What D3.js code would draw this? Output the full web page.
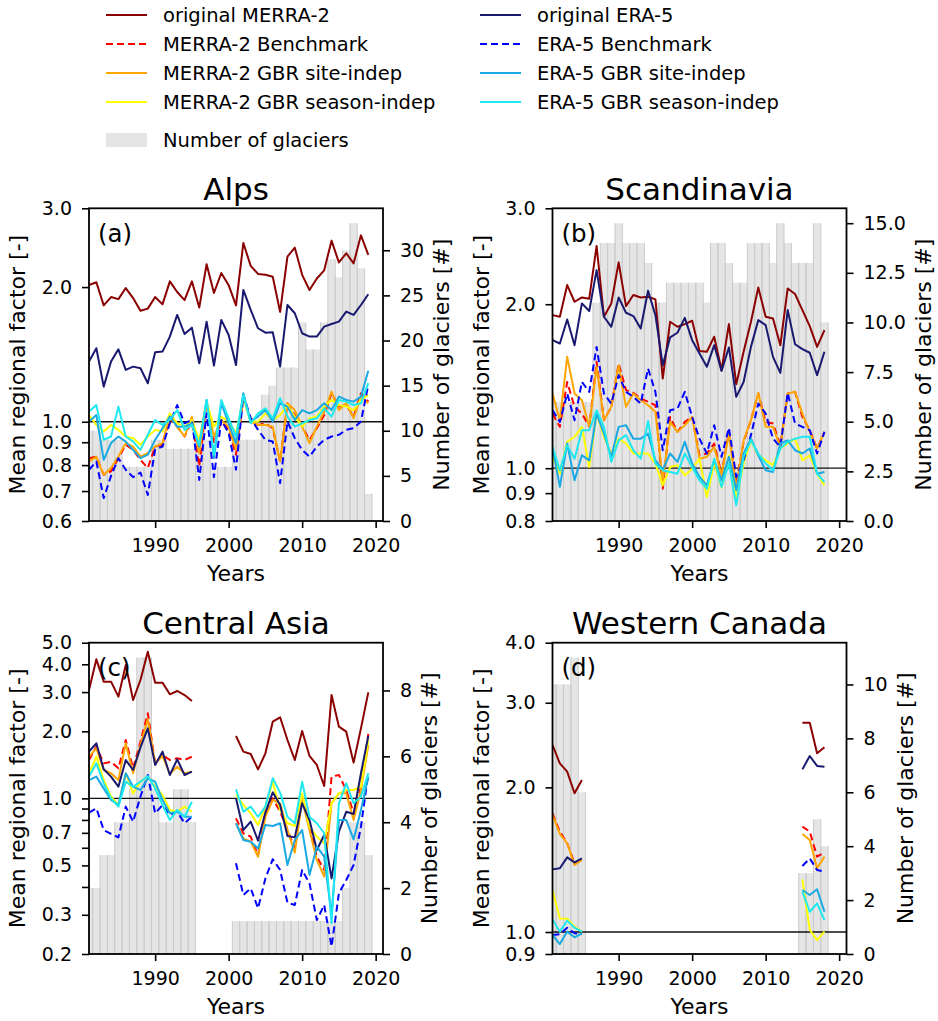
<!DOCTYPE html>
<html>
<head>
<meta charset="utf-8">
<script src="https://cdn.jsdelivr.net/npm/d3@7"></script>
<style>
  body { margin: 0; background: #fff; }
  svg text { font-family: "DejaVu Sans", "Liberation Sans", sans-serif; fill: #000; }
</style>
</head>
<body>
<svg id="chart" width="938" height="1021"></svg>
<script>
// ---- legend / series definitions ----
const seriesNames = ["original MERRA-2", "MERRA-2 Benchmark", "MERRA-2 GBR site-indep", "MERRA-2 GBR season-indep",
                     "original ERA-5", "ERA-5 Benchmark", "ERA-5 GBR site-indep", "ERA-5 GBR season-indep"];
const seriesColors = ["#8b0000", "#ff0000", "#ffa500", "#ffff00", "#191970", "#0000ff", "#1aa9e2", "#1ee8f0"];
const seriesDash = [null, "7,4", null, null, null, "7,4", null, null];

// ---- Alps (a) ----
const alpsYears = d3.range(1981, 2020);
const alpsGlaciers = [10, 10, 9, 9, 9, 6, 6, 6, 6, 9, 9, 8, 8, 8, 8, 9, 9, 6, 6, 6,
                      9, 9, 9, 9, 14, 15, 17, 17, 17, 22, 19, 19, 22, 29, 27, 30, 33, 28, 3];
const alpsMerraOrig = [2.02, 2.05, 1.82, 1.90, 1.88, 1.99, 1.89, 1.77, 1.79, 1.90, 1.83, 2.06, 1.95, 1.87, 2.06, 1.80, 2.25, 1.94, 2.15, 2.02,
                       1.82, 2.51, 2.23, 2.14, 2.13, 2.11, 1.76, 2.34, 2.45, 2.13, 1.97, 2.09, 2.18, 2.54, 2.27, 2.38, 2.26, 2.61, 2.36];
const alpsMerraBench = [0.829, 0.836, 0.761, 0.775, 0.829, 0.888, 0.865, 0.822, 0.788, 0.880, 0.888, 1.018, 0.975, 0.927, 1.001, 0.795, 1.109, 0.896, 1.001, 0.959,
                        0.844, 1.129, 1.018, 0.984, 0.992, 0.967, 0.815, 1.100, 1.035, 0.975, 0.911, 0.967, 1.035, 1.158, 1.081, 1.090, 1.027, 1.158, 1.109];
const alpsMerraSite = [0.815, 0.836, 0.761, 0.788, 0.836, 0.896, 0.880, 0.836, 0.851, 0.880, 0.896, 1.035, 0.975, 0.927, 1.027, 0.851, 1.100, 0.927, 1.009, 0.975,
                       0.865, 1.138, 1.001, 0.984, 0.984, 0.975, 0.815, 1.100, 1.062, 0.975, 0.896, 0.975, 1.053, 1.168, 1.062, 1.100, 1.018, 1.138, 1.100];
const alpsMerraSeason = [1.035, 0.984, 0.951, 0.984, 0.959, 0.927, 0.919, 0.888, 0.927, 0.959, 0.951, 1.044, 0.992, 0.975, 1.009, 0.911, 1.109, 0.975, 1.027, 1.001,
                         0.943, 1.129, 1.001, 1.001, 1.044, 1.009, 1.035, 1.090, 1.027, 0.975, 1.018, 1.027, 1.081, 1.119, 1.090, 1.081, 1.062, 1.119, 1.148];
const alpsEraOrig = [1.363, 1.460, 1.198, 1.363, 1.452, 1.306, 1.328, 1.317, 1.219, 1.430, 1.435, 1.550, 1.733, 1.571, 1.623, 1.351, 1.674, 1.335, 1.689, 1.563,
                     1.339, 1.971, 1.778, 1.618, 1.582, 1.585, 1.328, 1.824, 1.748, 1.577, 1.550, 1.550, 1.632, 1.654, 1.674, 1.763, 1.733, 1.824, 1.927];
const alpsEraBench = [0.781, 0.815, 0.675, 0.757, 0.829, 0.781, 0.752, 0.770, 0.686, 0.868, 0.880, 0.992, 1.090, 0.992, 1.009, 0.741, 1.045, 0.752, 1.009, 0.943,
                      0.781, 1.148, 1.018, 0.959, 0.911, 0.903, 0.729, 1.001, 0.919, 0.865, 0.836, 0.880, 0.911, 0.927, 0.935, 0.959, 0.967, 1.001, 1.21];
const alpsEraSite = [1.001, 1.035, 0.822, 0.896, 0.927, 0.903, 0.865, 0.829, 0.844, 0.911, 0.967, 1.027, 0.975, 0.975, 0.992, 0.880, 1.119, 0.829, 1.100, 0.992,
                     0.896, 1.158, 1.001, 1.027, 1.062, 1.001, 1.100, 1.081, 1.009, 1.062, 1.044, 1.062, 1.100, 1.062, 1.138, 1.119, 1.109, 1.138, 1.30];
const alpsEraSeason = [1.053, 1.090, 0.911, 0.927, 1.081, 0.927, 0.903, 0.865, 0.935, 1.009, 0.984, 1.009, 1.062, 0.959, 0.984, 0.888, 1.119, 0.844, 1.119, 1.018,
                       0.927, 1.148, 0.992, 1.044, 1.072, 1.018, 1.129, 1.027, 0.975, 0.992, 1.009, 1.018, 1.072, 1.027, 1.119, 1.109, 1.090, 1.100, 1.22];

// ---- Scandinavia (b) ----
const scandYears = d3.range(1981, 2019);
const scandGlaciers = [6, 6, 6, 6, 6, 6, 11, 14, 14, 15, 14, 14, 14, 13, 11, 11, 12, 12, 12, 12,
                       12, 11, 14, 14, 13, 12, 12, 14, 14, 14, 13, 15, 14, 13, 13, 13, 15, 10];
const scandMerraOrig = [1.910, 1.897, 2.169, 2.021, 2.058, 2.047, 2.558, 1.897, 2.007, 2.387, 1.984, 2.079, 2.058, 2.064, 2.041, 1.461, 1.857, 1.818, 1.839, 1.865,
                        1.642, 1.636, 1.743, 1.513, 1.839, 1.426, 1.636, 1.857, 2.147, 1.897, 1.883, 1.682, 2.138, 2.088, 1.951, 1.823, 1.670, 1.792];
const scandMerraBench = [1.260, 1.191, 1.440, 1.296, 1.260, 1.191, 1.568, 1.225, 1.296, 1.557, 1.391, 1.375, 1.343, 1.324, 1.305, 0.917, 1.242, 1.166, 1.216, 1.242,
                         1.056, 1.064, 1.110, 0.977, 1.166, 0.937, 1.118, 1.225, 1.371, 1.216, 1.208, 1.102, 1.371, 1.381, 1.242, 1.174, 1.087, 1.166];
const scandMerraSite = [1.371, 1.225, 1.601, 1.371, 1.333, 1.191, 1.535, 1.225, 1.296, 1.546, 1.296, 1.371, 1.333, 1.305, 1.269, 0.943, 1.216, 1.166, 1.199, 1.242,
                        1.041, 1.049, 1.094, 0.970, 1.158, 0.917, 1.125, 1.225, 1.375, 1.191, 1.191, 1.094, 1.371, 1.381, 1.260, 1.166, 1.087, 1.166];
const scandMerraSeason = [1.049, 0.977, 1.118, 1.142, 1.191, 1.005, 1.260, 1.142, 1.064, 1.133, 1.110, 1.064, 1.064, 1.064, 1.020, 0.930, 1.005, 1.013, 0.970, 0.998,
                          1.041, 0.885, 1.020, 0.922, 1.056, 0.879, 1.020, 1.125, 1.056, 1.034, 1.013, 1.087, 1.110, 1.133, 1.034, 1.056, 0.977, 0.930];
const scandEraOrig = [1.718, 1.694, 1.875, 1.682, 2.007, 1.943, 2.310, 1.897, 1.818, 2.058, 1.929, 1.902, 1.805, 2.117, 1.910, 1.546, 1.738, 1.773, 1.888, 1.718,
                      1.624, 1.535, 1.682, 1.509, 1.666, 1.352, 1.440, 1.670, 1.870, 1.831, 1.601, 1.496, 1.951, 1.689, 1.654, 1.629, 1.482, 1.636];
const scandEraBench = [1.278, 1.216, 1.371, 1.225, 1.440, 1.381, 1.670, 1.371, 1.314, 1.482, 1.381, 1.352, 1.314, 1.524, 1.381, 1.079, 1.278, 1.287, 1.381, 1.242,
                       1.133, 1.064, 1.199, 1.049, 1.186, 0.964, 1.034, 1.150, 1.314, 1.260, 1.133, 1.094, 1.375, 1.208, 1.191, 1.174, 1.064, 1.166];
const scandEraSite = [1.094, 0.924, 1.110, 0.950, 1.056, 1.034, 1.260, 1.158, 1.049, 1.191, 1.199, 1.133, 1.133, 1.158, 1.034, 0.994, 1.064, 1.027, 1.118, 1.020,
                      0.964, 0.930, 1.034, 0.950, 1.049, 0.911, 1.064, 1.133, 1.056, 0.991, 0.984, 1.110, 1.125, 1.079, 1.064, 1.087, 0.977, 0.984];
const scandEraSeason = [1.094, 0.991, 1.102, 1.041, 1.174, 1.174, 1.278, 1.191, 1.027, 1.125, 1.150, 1.079, 1.041, 1.221, 1.020, 0.991, 0.984, 0.977, 1.064, 1.005,
                        0.950, 0.917, 1.041, 0.924, 1.020, 0.855, 1.049, 1.125, 1.064, 1.020, 0.991, 1.087, 1.118, 1.133, 1.142, 1.142, 0.977, 0.943];

// ---- Central Asia (c) ----
const centralYears = [...d3.range(1981, 1996), ...d3.range(2001, 2020)];
const centralGlaciers = [2, 2, 3, 3, 4, 4, 5, 9, 9, 5, 4, 4, 5, 5, 4,
                         1, 1, 1, 1, 1, 1, 1, 1, 1, 1, 1, 1, 1, 1, 1, 2, 4, 4, 3];
const centralMerraOrig = [3.066, 4.210, 3.342, 3.342, 2.862, 3.971, 2.765, 3.400, 4.558, 3.308, 3.308, 2.932, 3.035, 2.911, 2.736,
                          1.906, 1.621, 1.582, 1.350, 1.593, 2.210, 2.312, 1.828, 1.487, 2.007, 1.550, 1.412, 1.136, 2.911, 2.098, 1.993, 1.447, 2.062, 2.993];
const centralMerraBench = [1.487, 1.707, 1.436, 1.461, 1.364, 1.828, 1.364, 1.797, 2.409, 1.436, 1.566, 1.487, 1.513, 1.487, 1.539,
                           0.813, 0.697, 0.673, 0.556, 0.871, 1.000, 0.871, 0.721, 0.596, 1.018, 0.773, 0.547, 0.477, 1.252, 1.273, 1.090, 0.857, 1.128, 1.946];
const centralMerraSite = [1.539, 1.678, 1.341, 1.296, 1.209, 1.767, 1.296, 1.736, 2.264, 1.436, 1.550, 1.286, 1.388, 1.296, 1.318,
                          0.773, 0.661, 0.639, 0.547, 0.827, 0.983, 0.950, 0.721, 0.570, 0.983, 0.721, 0.529, 0.445, 0.950, 1.053, 1.053, 0.799, 1.090, 1.736];
const centralMerraSeason = [1.296, 1.539, 1.209, 1.018, 0.934, 1.296, 1.053, 1.188, 1.252, 1.128, 1.036, 0.887, 0.871, 0.918, 0.871,
                            1.036, 0.934, 0.857, 0.759, 0.918, 1.188, 0.887, 0.773, 0.751, 1.053, 0.746, 0.673, 0.628, 0.950, 1.053, 1.090, 1.090, 1.128, 1.828];
const centralEraOrig = [1.621, 1.767, 1.350, 1.252, 1.128, 1.487, 1.341, 1.695, 2.062, 1.412, 1.621, 1.273, 1.497, 1.273, 1.318,
                        1.000, 0.721, 0.786, 0.646, 0.863, 1.064, 0.934, 0.678, 0.668, 0.950, 0.799, 0.586, 0.685, 0.437, 0.709, 0.871, 0.851, 1.296, 1.906];
const centralEraBench = [0.863, 0.902, 0.721, 0.692, 0.668, 0.918, 0.786, 1.018, 1.273, 0.857, 0.934, 0.842, 0.871, 0.773, 0.827,
                         0.511, 0.368, 0.394, 0.321, 0.437, 0.533, 0.477, 0.340, 0.332, 0.477, 0.415, 0.284, 0.332, 0.216, 0.375, 0.430, 0.502, 0.746, 1.296];
const centralEraSite = [1.209, 1.252, 1.109, 0.983, 0.934, 1.296, 1.128, 1.090, 1.230, 1.188, 0.983, 0.857, 0.871, 0.827, 0.827,
                        0.773, 0.650, 0.639, 0.596, 0.759, 0.751, 0.773, 0.502, 0.650, 0.721, 0.453, 0.607, 0.547, 0.299, 0.799, 0.799, 0.654, 0.887, 1.252];
const centralEraSeason = [1.252, 1.436, 1.168, 1.000, 0.918, 1.188, 1.128, 1.188, 1.260, 1.109, 0.934, 0.799, 0.887, 0.827, 0.966,
                          1.098, 0.871, 0.918, 0.827, 0.918, 1.230, 1.061, 0.827, 0.773, 1.188, 0.827, 0.773, 0.697, 0.275, 0.950, 1.168, 0.950, 1.018, 1.296];

// ---- Western Canada (d) ----
const canadaYears = [...d3.range(1981, 1986), ...d3.range(2015, 2019)];
const canadaGlaciers = [10, 10, 10, 11, 6, 3, 3, 5, 4];
const canadaMerraOrig = [2.450, 2.244, 2.156, 1.944, 2.072, 2.727, 2.727, 2.354, 2.423];
const canadaMerraBench = [1.766, 1.618, 1.530, 1.390, 1.416, 1.657, 1.618, 1.435, 1.463];
const canadaMerraSite = [1.752, 1.600, 1.530, 1.379, 1.412, 1.600, 1.554, 1.357, 1.435];
const canadaMerraSeason = [1.223, 1.067, 1.066, 1.026, 1.002, 1.287, 1.010, 0.962, 1.002];
const canadaEraOrig = [1.350, 1.357, 1.430, 1.396, 1.423, 2.180, 2.324, 2.216, 2.208];
const canadaEraBench = [0.986, 0.990, 1.021, 0.994, 0.990, 1.372, 1.423, 1.346, 1.335];
const canadaEraSite = [0.986, 0.944, 1.002, 0.975, 0.994, 1.223, 1.194, 1.227, 1.102];
const canadaEraSeason = [1.062, 1.002, 1.056, 1.021, 1.002, 1.213, 1.102, 1.147, 1.059];

// ---- tick labels ----
const yearTicks = [1990, 2000, 2010, 2020];
const alpsYTicks = [0.6, 0.7, 0.8, 0.9, 1, 2, 3];
const scandYTicks = [0.8, 0.9, 1, 2, 3];
const centralYTicks = [0.2, 0.3, 0.4, 0.5, 0.6, 0.7, 0.8, 0.9, 1, 2, 3, 4, 5];
const centralYLabels = [0.2, 0.3, 0.5, 0.7, 1, 2, 3, 4, 5];
const canadaYTicks = [0.9, 1, 2, 3, 4];

const panels = [
    { title: "Alps", tag: "(a)", left: 89, top: 208.3, h: 312.7,
      years: alpsYears, glaciers: alpsGlaciers, yDomain: [0.6, 3], yTicks: alpsYTicks, yLabels: alpsYTicks,
      gTicks: [0, 5, 10, 15, 20, 25, 30], gFormat: d3.format("d"),
      series: [alpsMerraOrig, alpsMerraBench, alpsMerraSite, alpsMerraSeason, alpsEraOrig, alpsEraBench, alpsEraSite, alpsEraSeason] },
    { title: "Scandinavia", tag: "(b)", left: 552.5, top: 208.3, h: 312.7,
      years: scandYears, glaciers: scandGlaciers, yDomain: [0.8, 3], yTicks: scandYTicks, yLabels: scandYTicks,
      gTicks: [0, 2.5, 5, 7.5, 10, 12.5, 15], gFormat: d3.format(".1f"),
      series: [scandMerraOrig, scandMerraBench, scandMerraSite, scandMerraSeason, scandEraOrig, scandEraBench, scandEraSite, scandEraSeason] },
    { title: "Central Asia", tag: "(c)", left: 89, top: 642.7, h: 311.3,
      years: centralYears, glaciers: centralGlaciers, yDomain: [0.2, 5], yTicks: centralYTicks, yLabels: centralYLabels,
      gTicks: [0, 2, 4, 6, 8], gFormat: d3.format("d"),
      series: [centralMerraOrig, centralMerraBench, centralMerraSite, centralMerraSeason, centralEraOrig, centralEraBench, centralEraSite, centralEraSeason] },
    { title: "Western Canada", tag: "(d)", left: 552.5, top: 642.7, h: 311.3,
      years: canadaYears, glaciers: canadaGlaciers, yDomain: [0.9, 4], yTicks: canadaYTicks, yLabels: canadaYTicks,
      gTicks: [0, 2, 4, 6, 8, 10], gFormat: d3.format("d"),
      series: [canadaMerraOrig, canadaMerraBench, canadaMerraSite, canadaMerraSeason, canadaEraOrig, canadaEraBench, canadaEraSite, canadaEraSeason] }
];

const svg = d3.select("#chart");
const plotW = 294;
const tickFont = 19;
const labelFont = 22;
const barFill = "#e5e5e5";

panels.forEach((p, pi) => {
    const right = p.left + plotW;
    const bottom = p.top + p.h;
    const x = d3.scaleLinear().domain([1981, 2021]).range([p.left, right]);
    const y = d3.scaleLog().domain(p.yDomain).range([bottom, p.top]);
    const g = d3.scaleLinear().domain([0, d3.max(p.glaciers) * 1.05]).range([bottom, p.top]);

    svg.append("clipPath").attr("id", "clip" + pi)
      .append("rect")
        .attr("x", p.left).attr("y", p.top)
        .attr("width", plotW).attr("height", p.h);

    const plot = svg.append("g").attr("clip-path", `url(#clip${pi})`);

    // bars of glacier counts
    const bars = p.years.map((yr, i) => ({ yr: yr, n: p.glaciers[i] }));
    plot.selectAll("rect.bar")
        .data(bars)
        .join("rect")
        .attr("class", "bar")
        .attr("x", d => x(d.yr - 0.5))
        .attr("width", d => x(d.yr + 0.5) - x(d.yr - 0.5))
        .attr("y", d => g(d.n))
        .attr("height", d => g(0) - g(d.n))
        .attr("fill", barFill);

    // thin edges between bars
    plot.selectAll("line.edge")
        .data(bars.flatMap(d => [{ xv: d.yr - 0.5, n: d.n }, { xv: d.yr + 0.5, n: d.n }]))
        .join("line")
        .attr("class", "edge")
        .attr("x1", d => x(d.xv)).attr("x2", d => x(d.xv))
        .attr("y1", g(0)).attr("y2", d => g(d.n))
        .attr("stroke", "#cbcbcb")
        .attr("stroke-width", 1);

    // reference line at factor 1
    plot.append("line")
        .attr("x1", p.left).attr("x2", right)
        .attr("y1", y(1)).attr("y2", y(1))
        .attr("stroke", "#111")
        .attr("stroke-width", 1.3);

    // series lines, broken where years are not consecutive
    const line = d3.line().x(d => x(d[0])).y(d => y(d[1]));
    p.series.forEach((vals, si) => {
        const segs = [];
        let cur = [];
        p.years.forEach((yr, i) => {
            if (cur.length && yr - cur[cur.length - 1][0] > 1) { segs.push(cur); cur = []; }
            cur.push([yr, vals[i]]);
        });
        if (cur.length) segs.push(cur);
        plot.selectAll(null)
            .data(segs)
            .join("path")
            .attr("d", line)
            .attr("fill", "none")
            .attr("stroke", seriesColors[si])
            .attr("stroke-width", 2)
            .attr("stroke-dasharray", seriesDash[si])
            .attr("stroke-linejoin", "round");
    });

    // frame
    svg.append("rect")
        .attr("x", p.left).attr("y", p.top)
        .attr("width", plotW).attr("height", p.h)
        .attr("fill", "none")
        .attr("stroke", "#000")
        .attr("stroke-width", 1.8);

    // axes
    const xAxis = svg.append("g")
        .attr("transform", `translate(0,${bottom})`)
        .call(d3.axisBottom(x).tickValues(yearTicks).tickFormat(d3.format("d"))
            .tickSize(7).tickSizeOuter(0).tickPadding(11));

    const labelled = v => p.yLabels.some(l => Math.abs(l - v) < 1e-9);
    const yAxis = svg.append("g")
        .attr("transform", `translate(${p.left},0)`)
        .call(d3.axisLeft(y).tickValues(p.yTicks)
            .tickFormat(d => labelled(d) ? d3.format(".1f")(d) : "")
            .tickSize(7).tickSizeOuter(0).tickPadding(10));

    const gAxis = svg.append("g")
        .attr("transform", `translate(${right},0)`)
        .call(d3.axisRight(g).tickValues(p.gTicks).tickFormat(p.gFormat)
            .tickSize(7).tickSizeOuter(0).tickPadding(10));

    [xAxis, yAxis, gAxis].forEach(a => {
        a.select(".domain").remove();
        a.selectAll(".tick line").attr("stroke", "#000").attr("stroke-width", 1.6);
        a.selectAll(".tick text")
            .attr("fill", "#000")
            .style("font-size", tickFont + "px")
            .style("font-family", '"DejaVu Sans", sans-serif');
    });

    // titles and labels
    svg.append("text")
        .attr("x", p.left + plotW / 2).attr("y", p.top - 8.5)
        .attr("text-anchor", "middle")
        .style("font-size", "31px")
        .text(p.title);

    svg.append("text")
        .attr("x", p.left + 9).attr("y", p.top + 33.5)
        .style("font-size", "24.5px")
        .text(p.tag);

    svg.append("text")
        .attr("x", p.left + plotW / 2).attr("y", bottom + 60)
        .attr("text-anchor", "middle")
        .style("font-size", labelFont + "px")
        .text("Years");

    svg.append("text")
        .attr("transform", `translate(${p.left - 64},${p.top + p.h / 2}) rotate(-90)`)
        .attr("text-anchor", "middle")
        .style("font-size", labelFont + "px")
        .text("Mean regional factor [-]");

    const gBox = gAxis.node().getBBox();
    svg.append("text")
        .attr("transform", `translate(${right + gBox.x + gBox.width + 25},${p.top + p.h / 2}) rotate(-90)`)
        .attr("text-anchor", "middle")
        .style("font-size", labelFont + "px")
        .text("Number of glaciers [#]");
});

// ---- legend ----
const legend = svg.append("g");
const legendRows = [15, 44, 73, 102];
seriesNames.forEach((name, i) => {
    const col = Math.floor(i / 4);
    const row = i % 4;
    const lx = col === 0 ? 106 : 480;
    const ly = legendRows[row];
    legend.append("line")
        .attr("x1", lx).attr("x2", lx + 41)
        .attr("y1", ly).attr("y2", ly)
        .attr("stroke", seriesColors[i])
        .attr("stroke-width", 2)
        .attr("stroke-dasharray", seriesDash[i]);
    legend.append("text")
        .attr("x", lx + 57).attr("y", ly)
        .attr("dy", "0.35em")
        .style("font-size", "19.5px")
        .text(name);
});
legend.append("rect")
    .attr("x", 106).attr("y", 133)
    .attr("width", 41).attr("height", 14)
    .attr("fill", barFill);
legend.append("text")
    .attr("x", 163).attr("y", 140)
    .attr("dy", "0.35em")
    .style("font-size", "19.5px")
    .text("Number of glaciers");
</script>
</body>
</html>
